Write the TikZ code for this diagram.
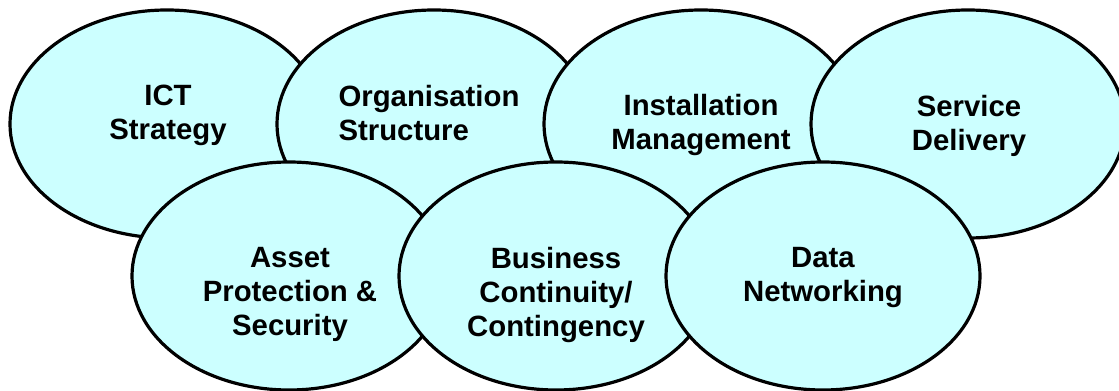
\documentclass[tikz,border=0pt]{standalone}
\usepackage{fontspec}
\setmainfont{Liberation Sans}
\usetikzlibrary{shapes.geometric}
\definecolor{bubblefill}{HTML}{CCFFFF}
\begin{document}
\begin{tikzpicture}[x=0.75pt,y=-0.75pt,
  bubble/.style={ellipse, draw=black, line width=2.4pt, fill=bubblefill,
    minimum width=235.5pt, minimum height=171pt, inner sep=0pt},
  caption/.style={anchor=north, align=center, inner sep=0pt,
    font=\fontsize{22}{25.5}\selectfont\bfseries}]
\useasboundingbox (0,0) rectangle (1119,391);

% top row, each drawn over its left neighbour
\node[bubble] (ict)   at (167,124) {};
\node[bubble] (org)   at (434,124) {};
\node[bubble] (inst)  at (701,124) {};
\node[bubble] (serv)  at (968,124) {};
% bottom row, drawn over the top row
\node[bubble] (asset) at (289,276) {};
\node[bubble] (bcp)   at (556,276) {};
\node[bubble] (data)  at (823,276) {};

% captions
\node[caption] (ict-t)   at (168,85) {ICT\\Strategy};
\node[caption, align=left] (org-t) at (429,85) {Organisation\\Structure};
\node[caption] (inst-t)  at (701,94) {Installation\\Management};
\node[caption] (serv-t)  at (969,95) {Service\\Delivery};
\node[caption] (asset-t) at (290,247) {Asset\\Protection \&\\Security};
\node[caption] (bcp-t)   at (556,247) {Business\\Continuity/\\Contingency};
\node[caption] (data-t)  at (823,247) {Data\\Networking};
\end{tikzpicture}
\end{document}
